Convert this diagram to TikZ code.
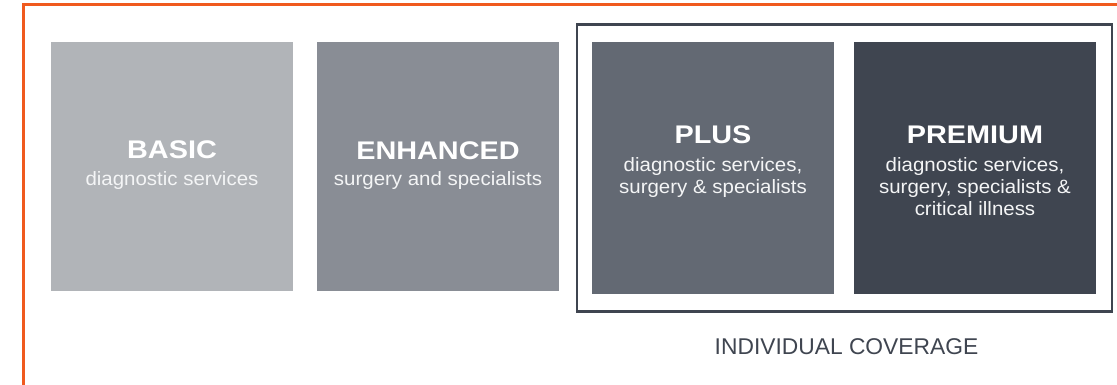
\documentclass[tikz,border=0pt]{standalone}
\usepackage{fontspec}
\setmainfont{Liberation Sans}
\newfontfamily\widefont[FakeStretch=1.13]{Liberation Sans}
\newfontfamily\subfont[FakeStretch=1.06]{Liberation Sans}
\definecolor{orangeline}{HTML}{F05A1E}
\definecolor{cbasic}{HTML}{B1B4B8}
\definecolor{cenh}{HTML}{898D95}
\definecolor{cplus}{HTML}{636973}
\definecolor{cprem}{HTML}{3F4550}
\definecolor{subwhite}{HTML}{F4F5F6}
\begin{document}
\begin{tikzpicture}[x=1pt,y=-1pt,
  tier/.style={draw=none,inner sep=0pt,outer sep=0pt,minimum width=242pt},
  ttl/.style={anchor=base,inner sep=0pt,text=white,font=\widefont\bfseries\fontsize{25.5}{30}\selectfont},
  sub/.style={anchor=base,inner sep=0pt,text=subwhite,font=\subfont\fontsize{19.3}{22}\selectfont},
  covlabel/.style={anchor=base,inner sep=0pt,text=cprem,font=\fontsize{22.8}{27}\selectfont}]
\useasboundingbox (0,0) rectangle (1117,384);
\clip (0,0) rectangle (1117,384);
\fill[white] (0,0) rectangle (1117,384);
% orange frame
\draw[orangeline,line width=3pt] (23.5,4.5) rectangle (1125,386);
% individual coverage frame
\node[draw=cprem,line width=2.5pt,inner sep=0pt,outer sep=0pt,minimum width=535pt,minimum height=287pt] (indiv) at (844.6,168) {};
% tiers
\node[tier,fill=cbasic,minimum height=249pt] (basic) at (172,166.5) {};
\node[tier,fill=cenh,minimum height=249pt] (enh) at (438,166.5) {};
\node[tier,fill=cplus,minimum height=252pt] (plus) at (713,168) {};
\node[tier,fill=cprem,minimum height=252pt] (prem) at (975,168) {};
% texts
\node[ttl] (basicT) at (172,158) {BASIC};
\node[sub] (basicS) at (172,185) {diagnostic services};
\node[ttl] (enhT) at (438,159.5) {ENHANCED};
\node[sub] (enhS) at (438,185) {surgery and specialists};
\node[ttl] (plusT) at (713,143) {PLUS};
\node[sub] (plusS1) at (713,171.5) {diagnostic services,};
\node[sub] (plusS2) at (713,193.5) {surgery \& specialists};
\node[ttl] (premT) at (975,143) {PREMIUM};
\node[sub] (premS1) at (975,171.5) {diagnostic services,};
\node[sub] (premS2) at (975,193.5) {surgery, specialists \&};
\node[sub] (premS3) at (975,215.5) {critical illness};
\node[covlabel] (cov) at (846.5,354) {INDIVIDUAL COVERAGE};
\end{tikzpicture}
\end{document}
